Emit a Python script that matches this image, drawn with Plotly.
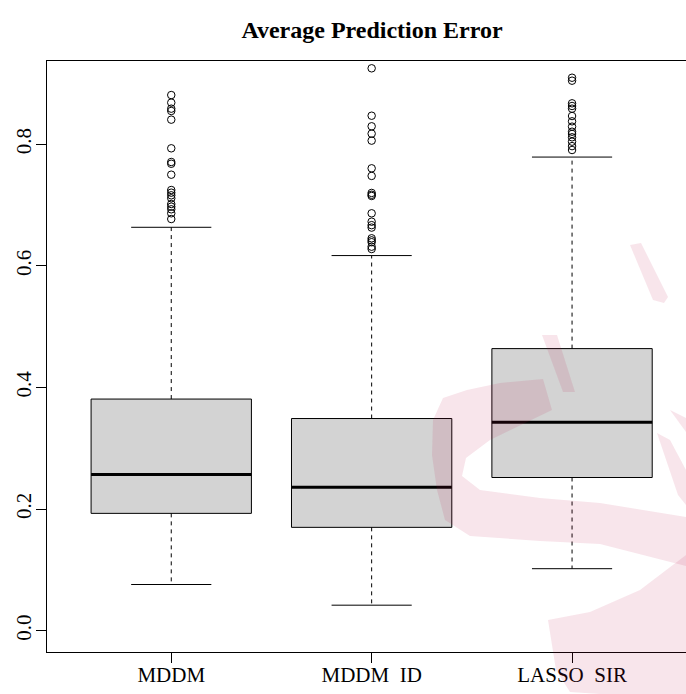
import plotly.graph_objects as go

# ---- data ----
categories = ["MDDM", "MDDM_ID", "LASSO_SIR"]
tick_labels = ["MDDM", "MDDM\u2002ID", "LASSO\u2002SIR"]
q1 = [0.193, 0.170, 0.252]
medians = [0.257, 0.236, 0.343]
q3 = [0.381, 0.349, 0.464]
lower_whisker = [0.076, 0.042, 0.102]
upper_whisker = [0.6635, 0.617, 0.779]
outliers_mddm = [0.881, 0.8685, 0.8586, 0.8548, 0.8405, 0.7934, 0.7709, 0.768, 0.750,
                 0.7248, 0.7204, 0.7161, 0.7112, 0.7018, 0.6974, 0.6931, 0.6865, 0.6771]
outliers_mddm_id = [0.925, 0.847, 0.8296, 0.8175, 0.806, 0.7605, 0.748, 0.720, 0.717,
                    0.715, 0.6865, 0.6727, 0.667, 0.663, 0.6454, 0.642, 0.639, 0.6316, 0.6278]
outliers_lasso_sir = [0.9095, 0.9046, 0.8674, 0.863, 0.8586, 0.8465, 0.8378, 0.829,
                      0.8207, 0.817, 0.8115, 0.8043, 0.797, 0.7906]
outliers = [outliers_mddm, outliers_mddm_id, outliers_lasso_sir]
y_ticks = [0.0, 0.2, 0.4, 0.6, 0.8]

W, H = 686, 694
L, R, T, B = 47, 0, 61, 42
BOXW = 0.8
FONT = "Liberation Serif, Times New Roman, serif"

fig = go.Figure()

for i, name in enumerate(categories):
    pos = i + 1
    hw = BOXW / 2
    cw = BOXW / 4
    # box body
    fig.add_trace(go.Scatter(
        x=[pos - hw, pos + hw, pos + hw, pos - hw, pos - hw],
        y=[q1[i], q1[i], q3[i], q3[i], q1[i]],
        mode="lines", fill="toself", fillcolor="#D3D3D3",
        line=dict(color="black", width=1), showlegend=False, hoverinfo="skip"))
    # whiskers (dashed)
    fig.add_trace(go.Scatter(
        x=[pos, pos, None, pos, pos],
        y=[q3[i], upper_whisker[i], None, q1[i], lower_whisker[i]],
        mode="lines", line=dict(color="black", width=1, dash="4px,4px"),
        showlegend=False, hoverinfo="skip"))
    # caps
    fig.add_trace(go.Scatter(
        x=[pos - cw, pos + cw, None, pos - cw, pos + cw],
        y=[upper_whisker[i], upper_whisker[i], None, lower_whisker[i], lower_whisker[i]],
        mode="lines", line=dict(color="black", width=1),
        showlegend=False, hoverinfo="skip"))
    # median
    fig.add_trace(go.Scatter(
        x=[pos - hw, pos + hw], y=[medians[i], medians[i]],
        mode="lines", line=dict(color="black", width=3),
        showlegend=False, hoverinfo="skip"))
    # outliers
    fig.add_trace(go.Scatter(
        x=[pos] * len(outliers[i]), y=outliers[i], mode="markers",
        marker=dict(symbol="circle-open", size=7.5, color="black", line=dict(width=1)),
        showlegend=False, name=name))

# ---- faint watermark (decorative background artefact of the reference) ----
def px2paper(pts):
    pw, ph = W - L - R, H - T - B
    return [((x - L) / pw, (H - B - y) / ph) for x, y in pts]

def path(pts):
    p = px2paper(pts)
    s = "M %f,%f " % p[0] + " ".join("L %f,%f" % q for q in p[1:]) + " Z"
    return s

wm_polys = [
    [(630, 245), (641, 243), (668, 297), (664, 303), (653, 300)],
    [(542, 335), (557, 335), (575, 392), (563, 392)],
    [(543, 379), (500, 383), (467, 390), (443, 398), (433, 420), (432, 455), (437, 490),
     (445, 520), (470, 536), (540, 541), (600, 544), (686, 566),
     (686, 517), (600, 503), (540, 498), (480, 490), (462, 476), (466, 458), (490, 440),
     (552, 410)],
    [(657, 433), (670, 440), (686, 470), (686, 505), (678, 495)],
    [(670, 410), (686, 418), (686, 432)],
    [(548, 620), (590, 612), (640, 590), (686, 555), (686, 694), (600, 694),
     (570, 692), (556, 670)],
]
shapes = []
for poly in wm_polys:
    shapes.append(dict(type="path", xref="paper", yref="paper", path=path(poly),
                       fillcolor="rgba(190,20,70,0.11)", line=dict(width=0), layer="above"))

fig.update_layout(
    width=W, height=H,
    margin=dict(l=L, r=R, t=T, b=B),
    plot_bgcolor="white", paper_bgcolor="white",
    title=dict(text="<b>Average Prediction Error</b>", x=372 / W, xanchor="center",
               y=1 - 30 / H, yanchor="middle", yref="container",
               font=dict(family=FONT, size=24, color="black")),
    font=dict(family=FONT, size=21, color="black"),
    shapes=shapes,
    xaxis=dict(range=[0.38, 0.38 + (W - L - R) / 200.4], tickvals=[1, 2, 3],
               ticktext=tick_labels, showgrid=False, zeroline=False,
               showline=True, mirror=True, linecolor="black", linewidth=1,
               ticks="outside", ticklen=10, tickcolor="black", ticklabelstandoff=-6,
               tickfont=dict(family=FONT, size=21, color="black")),
    yaxis=dict(range=[-0.035, 0.937], tickvals=y_ticks,
               ticktext=["%.1f" % v for v in y_ticks], showgrid=False, zeroline=False,
               showline=True, linecolor="black", linewidth=1,
               ticks="outside", ticklen=10, tickcolor="black", tickangle=-90,
               ticklabelstandoff=-3,
               tickfont=dict(family=FONT, size=21, color="black")),
)

fig.write_html("out.html", config={"displayModeBar": False},
               post_script="document.body.style.margin='0';document.body.style.overflow='hidden';")
